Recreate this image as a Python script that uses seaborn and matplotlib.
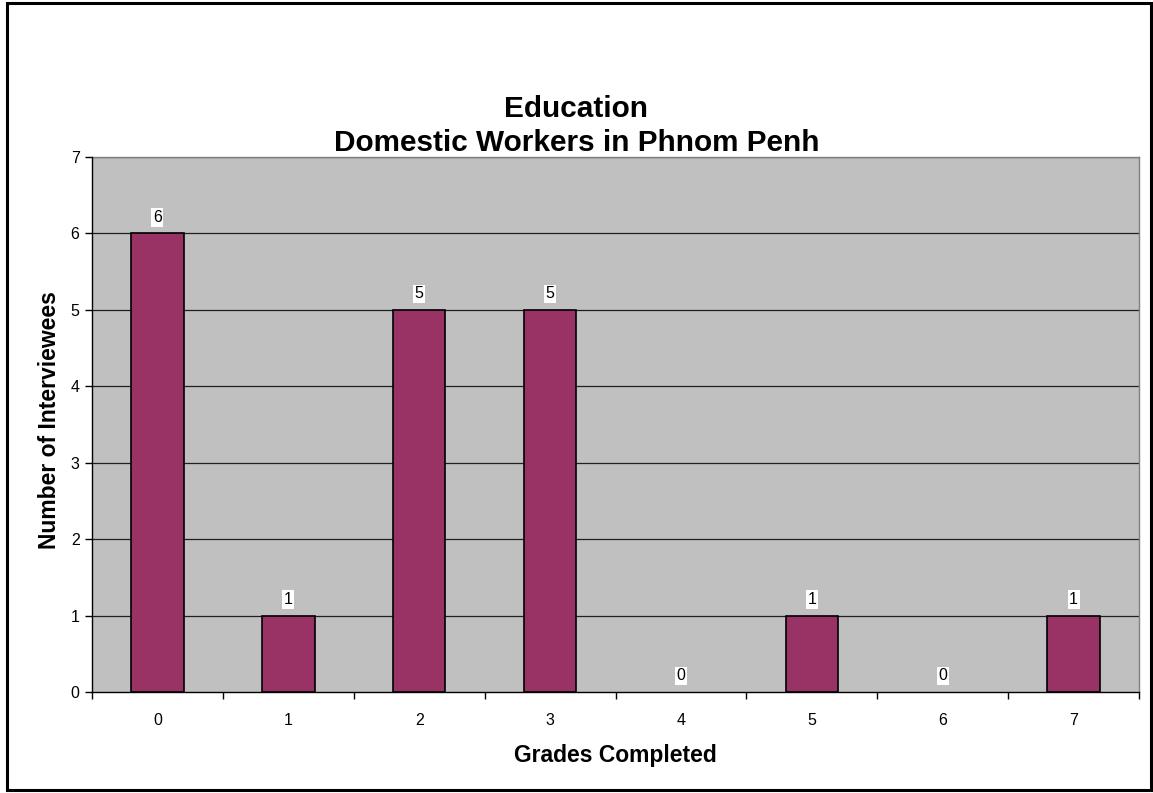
import matplotlib
matplotlib.use("Agg")
import matplotlib.pyplot as plt
from matplotlib.patches import Rectangle
import seaborn as sns
import pandas as pd

grades = ["0", "1", "2", "3", "4", "5", "6", "7"]
interviewees = [6, 1, 5, 5, 0, 1, 0, 1]
y_ticks = [0, 1, 2, 3, 4, 5, 6, 7]

df = pd.DataFrame({"Grades Completed": grades, "Number of Interviewees": interviewees})

sns.set_style("white")
plt.rcParams["font.family"] = ["Liberation Sans", "DejaVu Sans"]
plt.rcParams["text.color"] = "black"
plt.rcParams["axes.labelcolor"] = "black"
plt.rcParams["xtick.color"] = "black"
plt.rcParams["ytick.color"] = "black"

fig = plt.figure(figsize=(11.53, 7.93), dpi=100)
ax = fig.add_axes([0.0798, 0.1274, 0.9081, 0.6746])
ax.set_facecolor("#C0C0C0")

sns.barplot(data=df, x="Grades Completed", y="Number of Interviewees",
            color="#993366", width=0.4, edgecolor="black", linewidth=1.2,
            saturation=1, ax=ax, zorder=3)

# empty categories get no visible outline
for patch in ax.patches:
    if patch.get_height() == 0:
        patch.set_visible(False)

ax.set_ylim(0, 7)
ax.set_xlim(-0.5, len(grades) - 0.5)
ax.set_yticks(y_ticks)
ax.set_yticklabels([str(v) for v in y_ticks], fontsize=11.5)
for v in y_ticks[1:]:
    ax.axhline(v, color="#202020", linewidth=0.9, zorder=1)

# category labels at centers, tick marks at category boundaries
ax.set_xticks(range(len(grades)))
ax.set_xticklabels(grades, fontsize=11.5)
ax.tick_params(axis="x", which="major", length=0, pad=15)
ax.set_xticks([i - 0.5 for i in range(len(grades) + 1)], minor=True)
ax.tick_params(axis="x", which="minor", length=5, width=1, color="black", direction="out")
ax.tick_params(axis="y", which="major", length=5, width=1, color="black", direction="out", pad=4)
ax.xaxis.set_ticks_position("bottom")
ax.yaxis.set_ticks_position("left")

for side in ["top", "right"]:
    ax.spines[side].set_color("#808080")
    ax.spines[side].set_linewidth(1)
for side in ["left", "bottom"]:
    ax.spines[side].set_color("black")
    ax.spines[side].set_linewidth(1)
    ax.spines[side].set_zorder(4)

for i, v in enumerate(interviewees):
    ax.annotate(str(v), (i, v), xytext=(0, 11.5), textcoords="offset points",
                ha="center", va="center", fontsize=11.5,
                bbox=dict(boxstyle="square,pad=0.1", facecolor="white", edgecolor="none"),
                zorder=5)

ax.set_xlabel("Grades Completed", fontsize=16.5, fontweight="bold", labelpad=12)
ax.set_ylabel("Number of Interviewees", fontsize=16.5, fontweight="bold")
ax.yaxis.set_label_coords(-0.030, 0.508)

fig.text(0.5, 0.841, "Education\nDomestic Workers in Phnom Penh", ha="center", va="center",
         fontsize=21.4, fontweight="bold", linespacing=1.25)

fig.patches.append(Rectangle((7 / 1153, 3 / 793), 1144 / 1153, 787 / 793,
                             transform=fig.transFigure, fill=False,
                             edgecolor="black", linewidth=2.2, zorder=10))

fig.savefig("out.png", dpi=100, facecolor="white")
